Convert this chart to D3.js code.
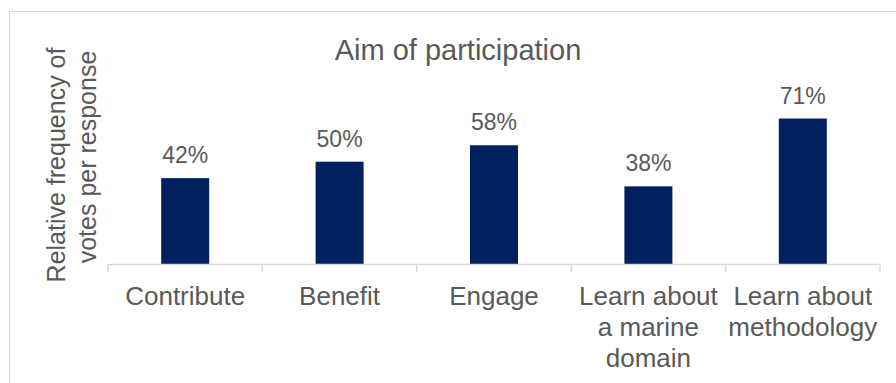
<!DOCTYPE html>
<html>
<head>
<meta charset="utf-8">
<script src="https://cdn.jsdelivr.net/npm/d3@7"></script>
<style>
  html, body { margin: 0; padding: 0; background: #ffffff; }
  svg { display: block; }
  text { font-family: "Liberation Sans", Arial, sans-serif; fill: #595959; }
</style>
</head>
<body>
<svg id="chart" width="896" height="383"></svg>
<script>
// Survey answers: share of votes per response option
const categories = ["Contribute", "Benefit", "Engage", "Learn about a marine domain", "Learn about methodology"];
const values = [0.42, 0.50, 0.58, 0.38, 0.71];
const valueLabels = ["42%", "50%", "58%", "38%", "71%"];
const tickLabels = [
  ["Contribute"],
  ["Benefit"],
  ["Engage"],
  ["Learn about", "a marine", "domain"],
  ["Learn about", "methodology"]
];
const chartTitle = "Aim of participation";
const yTitleLines = ["Relative frequency of", "votes per response"];

const svg = d3.select("#chart");

// Outer chart frame
svg.append("rect")
  .attr("x", 9.5).attr("y", 11.5)
  .attr("width", 920).attr("height", 420)
  .attr("fill", "none")
  .attr("stroke", "#d9d9d9")
  .attr("stroke-width", 1);

const x = d3.scaleBand()
  .domain(categories)
  .range([108, 880])
  .paddingInner(0)
  .paddingOuter(0);

const y = d3.scaleLinear()
  .domain([0, 0.8])
  .range([264.5, 100]);

const barW = 48;

// Bars
svg.append("g").selectAll("rect")
  .data(categories)
  .join("rect")
  .attr("x", (c) => x(c) + x.bandwidth() / 2 - barW / 2)
  .attr("y", (c, i) => y(values[i]))
  .attr("width", barW)
  .attr("height", (c, i) => y(0) - y(values[i]))
  .attr("fill", "#002060");

// Value labels above the bars
svg.append("g").selectAll("text")
  .data(categories)
  .join("text")
  .attr("x", (c) => x(c) + x.bandwidth() / 2)
  .attr("y", (c, i) => y(values[i]) - 15)
  .attr("text-anchor", "middle")
  .style("font-size", "23px")
  .text((c, i) => valueLabels[i]);

// Category axis: baseline with tick marks at band boundaries
const axis = svg.append("g");
axis.append("line")
  .attr("x1", x.range()[0]).attr("x2", x.range()[1])
  .attr("y1", y(0)).attr("y2", y(0))
  .attr("stroke", "#d9d9d9").attr("stroke-width", 1.5);
const bounds = categories.map((c) => x(c)).concat([x.range()[1]]);
axis.selectAll("line.tick")
  .data(bounds)
  .join("line")
  .attr("class", "tick")
  .attr("x1", (d) => d).attr("x2", (d) => d)
  .attr("y1", y(0)).attr("y2", y(0) + 7.5)
  .attr("stroke", "#d9d9d9").attr("stroke-width", 1.5);

// Category labels (wrapped lines)
const catG = svg.append("g").selectAll("text")
  .data(categories)
  .join("text")
  .attr("x", (c) => x(c) + x.bandwidth() / 2)
  .attr("y", 305)
  .attr("text-anchor", "middle")
  .style("font-size", "26px");
catG.selectAll("tspan")
  .data((c, i) => tickLabels[i].map((t) => ({ t, x: x(c) + x.bandwidth() / 2 })))
  .join("tspan")
  .attr("x", (d) => d.x)
  .attr("dy", (d, j) => (j === 0 ? 0 : 31))
  .text((d) => d.t);

// Chart title
svg.append("text")
  .attr("x", 458)
  .attr("y", 60)
  .attr("text-anchor", "middle")
  .style("font-size", "29px")
  .text(chartTitle);

// Vertical axis title (two lines)
const yt = svg.append("text")
  .attr("transform", "translate(65,165) rotate(-90)")
  .attr("text-anchor", "middle")
  .style("font-size", "25px");
yt.selectAll("tspan")
  .data(yTitleLines)
  .join("tspan")
  .attr("x", (d, j) => (j === 0 ? 0 : 8))
  .attr("dy", (d, j) => (j === 0 ? 0 : 31))
  .text((d) => d);
</script>
</body>
</html>
